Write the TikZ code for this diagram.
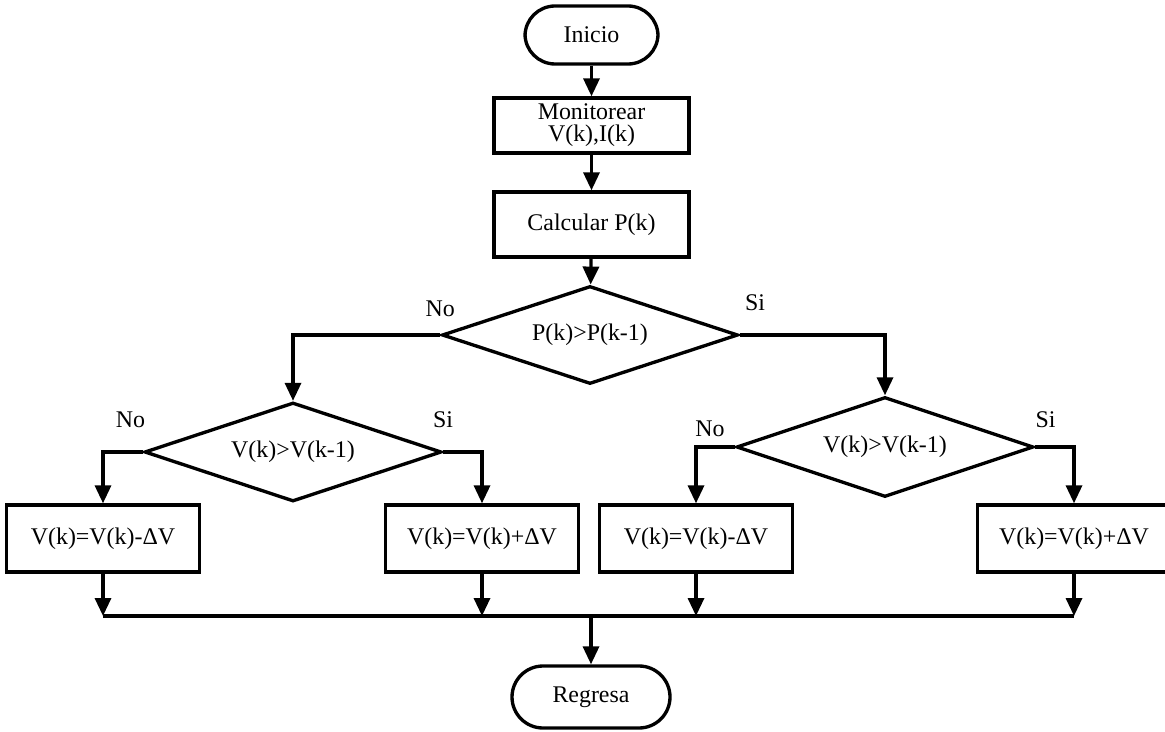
\documentclass[tikz,border=0pt]{standalone}
\usepackage{fontspec}
\setmainfont{Liberation Serif}
\usetikzlibrary{arrows.meta,positioning,shapes.geometric}
\tikzset{
  flow/.style={line width=1.9pt, -{Triangle[length=0.36cm,width=0.32cm]}},
  term/.style={draw, line width=1.9pt, rounded corners=0.6cm, minimum height=1.16cm},
  proc/.style={draw, line width=1.9pt, minimum width=3.86cm, minimum height=1.34cm, align=center},
  test/.style={draw, line width=1.9pt, diamond, aspect=3, inner sep=1pt},
  lbl/.style={inner sep=0pt}
}
\begin{document}
\begin{tikzpicture}[font=\fontsize{13.6pt}{12.4pt}\selectfont]
\useasboundingbox (0,0) rectangle (23.3,-14.64);
\node[term, minimum width=2.66cm] (inicio) at (11.83,-0.70) {Inicio};
\node[proc, minimum width=3.9cm, minimum height=1.1cm, inner sep=1pt] (mon) at (11.83,-2.51) {Monitorear\\V(k),I(k)};
\node[proc, minimum width=3.9cm, minimum height=1.3cm] (calc) at (11.83,-4.49) {Calcular P(k)};
\node[test, minimum width=5.92cm, minimum height=1.96cm] (d1) at (11.80,-6.70) {P(k)>P(k-1)};
\node[test, minimum width=5.94cm, minimum height=1.98cm] (d2) at (5.86,-9.04) {V(k)>V(k-1)};
\node[test, minimum width=5.94cm, minimum height=2.0cm] (d3) at (17.70,-8.94) {V(k)>V(k-1)};
\foreach [count=\i] \x/\s in {2.06/-, 9.64/+, 13.92/-, 21.48/+}{
\node[proc] (b\i) at (\x,-10.77) {V(k)=V(k)\s ΔV};
\coordinate (m\i) at (\x,-12.32);
\draw[flow] (b\i) -- (m\i);
}
\node[term, minimum width=3.16cm, minimum height=1.24cm, rounded corners=0.62cm] (fin) at (11.82,-13.94) {Regresa};
% labels
\node[lbl, above=0.36cm of d1.west] {No};
\node[lbl, above right=0.48cm and 0.1cm of d1.east] {Si};
\node[lbl, above left=0.48cm and -0.05cm of d2.west] {No};
\node[lbl, above=0.48cm of d2.east] {Si};
\node[lbl, above left=0.2cm and 0.2cm of d3.west] {No};
\node[lbl, above right=0.38cm and 0cm of d3.east] {Si};
\draw[flow] (inicio) -- (mon);
\draw[flow] (mon) -- (calc);
\draw[flow] (calc) -- (d1);
\draw[flow] (d1.west) -| (d2.north);
\draw[flow] (d1.east) -| (d3.north);
\draw[flow] (d2.west) -| (b1.north);
\draw[flow] (d2.east) -| (b2.north);
\draw[flow] (d3.west) -| (b3.north);
\draw[flow] (d3.east) -| (b4.north);
\draw[line width=1.9pt] (m1) -- (m4);
\draw[flow] (fin.north |- m1) -- (fin);
\end{tikzpicture}
\end{document}
